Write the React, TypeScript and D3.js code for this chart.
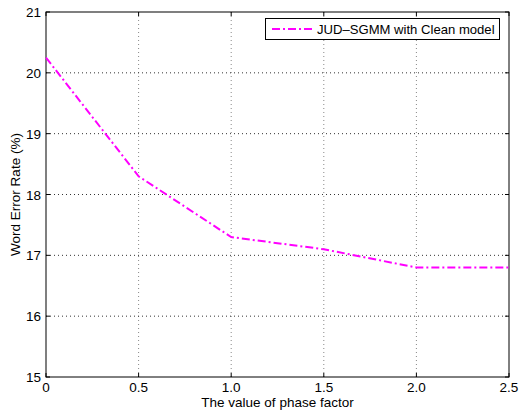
import React from "react";
import * as d3 from "d3";

// phase factor vs word error rate
const phaseFactor = [0, 0.5, 1.0, 1.5, 2.0, 2.5];
const werClean = [20.25, 18.3, 17.3, 17.1, 16.8, 16.8];
const xTicks = [0, 0.5, 1.0, 1.5, 2.0, 2.5];
const xTickLabels = ["0", "0.5", "1.0", "1.5", "2.0", "2.5"];
const yTicks = [15, 16, 17, 18, 19, 20, 21];
const seriesName = "JUD\u2013SGMM with Clean model";

const App = () => {
  const width = 519;
  const height = 411;
  const left = 46;
  const right = 509;
  const top = 12;
  const bottom = 377;

  const x = d3.scaleLinear().domain([0, 2.5]).range([left, right]);
  const y = d3.scaleLinear().domain([15, 21]).range([bottom, top]);

  const line = d3
    .line<number>()
    .x((d, i) => x(phaseFactor[i]))
    .y((d) => y(d));

  const font = "Helvetica, Arial, 'Liberation Sans', sans-serif";
  const dash = "8,3,2,3";
  const magenta = "#ff00ff";

  return (
    <svg
      width={width}
      height={height}
      style={{ position: "absolute", left: 0, top: 0, background: "#fff" }}
      fontFamily={font}
    >
      {/* grid */}
      {xTicks.slice(1, -1).map((t, i) => (
        <line
          key={"gx" + i}
          x1={x(t)}
          x2={x(t)}
          y1={top}
          y2={bottom}
          stroke="#888"
          strokeWidth={1}
          strokeDasharray="1,3"
        />
      ))}
      {yTicks.slice(1, -1).map((t, i) => (
        <line
          key={"gy" + i}
          x1={left}
          x2={right}
          y1={y(t)}
          y2={y(t)}
          stroke="#333"
          strokeWidth={1}
          strokeDasharray="1,3"
        />
      ))}

      {/* ticks */}
      {xTicks.map((t, i) => (
        <g key={"tx" + i}>
          <line x1={x(t)} x2={x(t)} y1={bottom} y2={bottom - 4} stroke="#000" />
          <line x1={x(t)} x2={x(t)} y1={top} y2={top + 4} stroke="#000" />
          <text
            x={x(t)}
            y={bottom + 15}
            textAnchor="middle"
            fontSize={13.5}
            fill="#000"
          >
            {xTickLabels[i]}
          </text>
        </g>
      ))}
      {yTicks.map((t, i) => (
        <g key={"ty" + i}>
          <line x1={left} x2={left + 4} y1={y(t)} y2={y(t)} stroke="#000" />
          <line x1={right} x2={right - 4} y1={y(t)} y2={y(t)} stroke="#000" />
          <text
            x={left - 5}
            y={y(t) + 5}
            textAnchor="end"
            fontSize={13.5}
            fill="#000"
          >
            {t}
          </text>
        </g>
      ))}

      {/* box */}
      <rect
        x={left}
        y={top}
        width={right - left}
        height={bottom - top}
        fill="none"
        stroke="#000"
        strokeWidth={1}
      />

      {/* series */}
      <path
        d={line(werClean) || ""}
        fill="none"
        stroke={magenta}
        strokeWidth={2}
        strokeDasharray={dash}
      />

      {/* legend */}
      <rect
        x={265.5}
        y={18.5}
        width={234}
        height={21}
        fill="#fff"
        stroke="#000"
        strokeWidth={1}
      />
      <line
        x1={272}
        x2={312}
        y1={29}
        y2={29}
        stroke={magenta}
        strokeWidth={2}
        strokeDasharray={dash}
      />
      <text x={317} y={34} fontSize={13.1} fill="#000">
        {seriesName}
      </text>

      {/* axis labels */}
      <text
        x={(left + right) / 2}
        y={407}
        textAnchor="middle"
        fontSize={13.5}
        fill="#000"
      >
        The value of phase factor
      </text>
      <text
        transform={`translate(20,${(top + bottom) / 2}) rotate(-90)`}
        textAnchor="middle"
        fontSize={13.5}
        fill="#000"
      >
        Word Error Rate (%)
      </text>
    </svg>
  );
};

export default App;
